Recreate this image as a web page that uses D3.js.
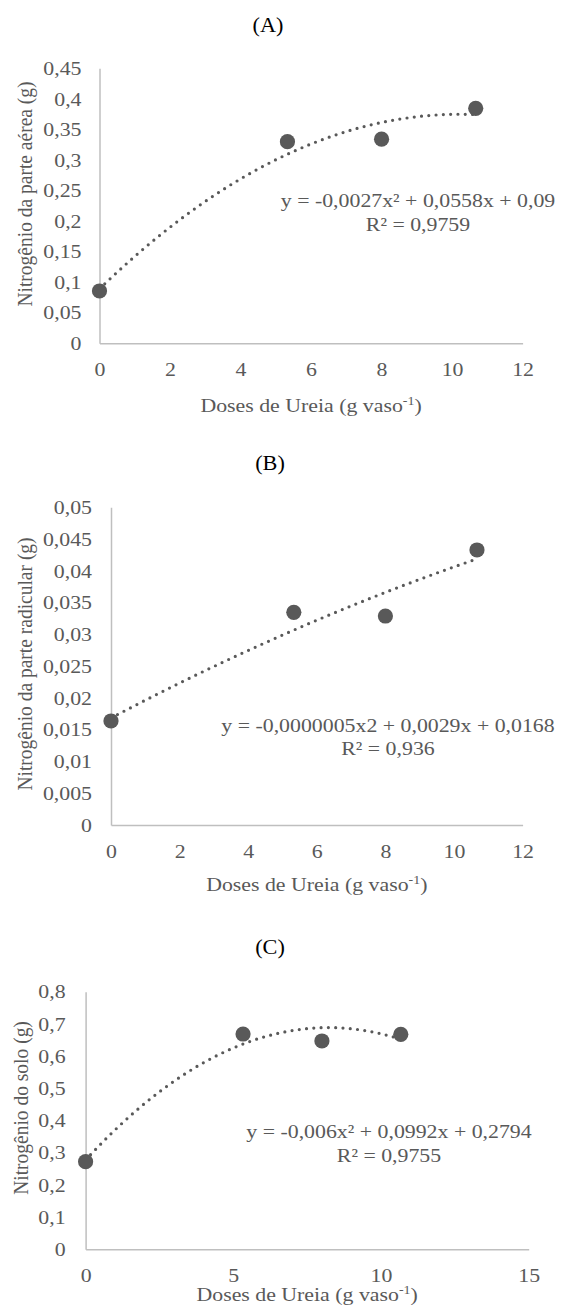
<!DOCTYPE html>
<html>
<head>
<meta charset="utf-8">
<script src="https://cdn.jsdelivr.net/npm/d3@7"></script>
<style>
    body { margin: 0; background: #fff; }
    text { font-family: "Liberation Serif", "Times New Roman", serif; }
</style>
</head>
<body>
<svg id="drawing_region"></svg>
<script>
// doses de ureia (g vaso-1)
const doses = [0, 5.33, 8, 10.67];

// nitrogênio (g) por painel
const nAerea = [0.0856, 0.330, 0.334, 0.3845];
const nRadicular = [0.01637, 0.03347, 0.03289, 0.04328];
const nSolo = [0.272, 0.6686, 0.6469, 0.6677];

const xTicksAB = [0, 2, 4, 6, 8, 10, 12];
const xTicksC = [0, 5, 10, 15];
const yTicksA = [0, 0.05, 0.1, 0.15, 0.2, 0.25, 0.3, 0.35, 0.4, 0.45];
const yTicksB = [0, 0.005, 0.01, 0.015, 0.02, 0.025, 0.03, 0.035, 0.04, 0.045, 0.05];
const yTicksC = [0, 0.1, 0.2, 0.3, 0.4, 0.5, 0.6, 0.7, 0.8];

const titles = ["(A)", "(B)", "(C)"];
const yLabels = ["Nitrogênio da parte aérea (g)", "Nitrogênio da parte radicular (g)", "Nitrogênio do solo (g)"];
const equations = [
    "y = -0,0027x² + 0,0558x + 0,09",
    "y = -0,0000005x2 + 0,0029x + 0,0168",
    "y = -0,006x² + 0,0992x + 0,2794"
];
const r2Labels = ["R² = 0,9759", "R² = 0,936", "R² = 0,9755"];

const locale = d3.formatLocale({decimal: ",", thousands: ".", grouping: [3], currency: ["", ""]});
const fmt = locale.format("~g");

const textColor = "#595959";
const axisColor = "#bfbfbf";
const fontSize = 19.5;
const stretch = 1.12;   // the original lettering is a bit wide

const svg = d3.select("#drawing_region")
    .attr("width", 564)
    .attr("height", 1307);

// widen text around its own anchor point
function widen(sel, s) {
    sel.each(function() {
        const t = d3.select(this);
        const x = +t.attr("x") || 0, y = +t.attr("y") || 0;
        t.attr("x", 0).attr("y", 0)
            .attr("transform", `translate(${x}, ${y}) scale(${s}, 1)`);
    });
}

// least squares, 2nd order (same as the spreadsheet trendline)
function polyFit2(xs, ys) {
    let s = [0, 0, 0, 0, 0], t = [0, 0, 0];
    xs.forEach((x, i) => {
        for (let k = 0; k < 5; k++) s[k] += Math.pow(x, k);
        for (let k = 0; k < 3; k++) t[k] += ys[i] * Math.pow(x, k);
    });
    let m = [
        [s[0], s[1], s[2], t[0]],
        [s[1], s[2], s[3], t[1]],
        [s[2], s[3], s[4], t[2]]
    ];
    for (let i = 0; i < 3; i++) {
        for (let j = i + 1; j < 3; j++) {
            let f = m[j][i] / m[i][i];
            for (let k = i; k < 4; k++) m[j][k] -= f * m[i][k];
        }
    }
    let c = [0, 0, 0];
    for (let i = 2; i >= 0; i--) {
        let v = m[i][3];
        for (let k = i + 1; k < 3; k++) v -= m[i][k] * c[k];
        c[i] = v / m[i][i];
    }
    return x => c[0] + c[1] * x + c[2] * x * x;
}

const panels = [
    { values: nAerea, xTicks: xTicksAB, yTicks: yTicksA, xMax: 12, yMax: 0.45,
      left: 99.5, right: 522.6, top: 68.3, bottom: 343.3, xPad: 19, yPad: 18,
      titleX: 268, titleY: 32, yLabelX: 25, yLabelY: 194, xLabelY: 412,
      eqX: 418, eqY: 206.5, r2Y: 230.5 },
    { values: nRadicular, xTicks: xTicksAB, yTicks: yTicksB, xMax: 12, yMax: 0.05,
      left: 111, right: 522.6, top: 507.3, bottom: 825, xPad: 19, yPad: 19,
      titleX: 270, titleY: 470, yLabelX: 25, yLabelY: 664, xLabelY: 891,
      eqX: 388, eqY: 731.5, r2Y: 755 },
    { values: nSolo, xTicks: xTicksC, yTicks: yTicksC, xMax: 15, yMax: 0.8,
      left: 85.6, right: 528.7, top: 991.7, bottom: 1249.3, xPad: 18.5, yPad: 20,
      titleX: 270, titleY: 953.5, yLabelX: 21, yLabelY: 1108, xLabelY: 1301,
      eqX: 389, eqY: 1138, r2Y: 1161.5 }
];

panels.forEach((p, idx) => {
    const xscale = d3.scaleLinear().domain([0, p.xMax]).range([p.left, p.right]);
    const yscale = d3.scaleLinear().domain([0, p.yMax]).range([p.bottom, p.top]);

    const g = svg.append("g");

    // axes
    const xaxis = d3.axisBottom(xscale).tickValues(p.xTicks).tickSize(0).tickPadding(p.xPad).tickFormat(fmt);
    const yaxis = d3.axisLeft(yscale).tickValues(p.yTicks).tickSize(0).tickPadding(p.yPad).tickFormat(fmt);

    const xg = g.append("g")
        .attr("transform", `translate(0, ${p.bottom})`)
        .call(xaxis);
    const yg = g.append("g")
        .attr("transform", `translate(${p.left}, 0)`)
        .call(yaxis);

    [xg, yg].forEach(a => {
        a.select(".domain").attr("stroke", axisColor).attr("stroke-width", 1.5);
        a.selectAll("text")
            .attr("fill", textColor)
            .attr("font-size", fontSize)
            .call(widen, stretch);
    });

    // trendline
    const fit = polyFit2(doses, p.values);
    const xs = d3.range(0, 61).map(i => doses[doses.length - 1] * i / 60);
    g.append("path")
        .datum(xs)
        .attr("fill", "none")
        .attr("stroke", textColor)
        .attr("stroke-width", 3.2)
        .attr("stroke-linecap", "round")
        .attr("stroke-dasharray", "0 7.3")
        .attr("d", d3.line().x(d => xscale(d)).y(d => yscale(fit(d))));

    // points
    g.selectAll("circle")
        .data(doses)
        .enter()
        .append("circle")
        .attr("cx", d => xscale(d))
        .attr("cy", (d, i) => yscale(p.values[i]))
        .attr("r", 7.6)
        .attr("fill", textColor);

    // title
    svg.append("text")
        .attr("x", p.titleX)
        .attr("y", p.titleY)
        .attr("text-anchor", "middle")
        .attr("font-size", 21)
        .attr("fill", "#000")
        .text(titles[idx])
        .call(widen, 1.06);

    // y label
    svg.append("text")
        .attr("transform", `translate(${p.yLabelX}, ${p.yLabelY}) rotate(-90) scale(1, ${stretch})`)
        .attr("dy", "0.32em")
        .attr("text-anchor", "middle")
        .attr("font-size", fontSize)
        .attr("fill", textColor)
        .text(yLabels[idx]);

    // x label with superscript
    const xl = svg.append("text")
        .attr("x", (p.left + p.right) / 2)
        .attr("y", p.xLabelY)
        .attr("text-anchor", "middle")
        .attr("font-size", fontSize)
        .attr("fill", textColor);
    xl.append("tspan").text("Doses de Ureia (g vaso");
    xl.append("tspan").attr("font-size", 12.5).attr("dy", -7.5).text("-1");
    xl.append("tspan").attr("dy", 7.5).text(")");
    xl.call(widen, stretch);

    // equation
    svg.append("text")
        .attr("x", p.eqX)
        .attr("y", p.eqY)
        .attr("text-anchor", "middle")
        .attr("font-size", fontSize)
        .attr("fill", textColor)
        .text(equations[idx])
        .call(widen, stretch);
    svg.append("text")
        .attr("x", p.eqX)
        .attr("y", p.r2Y)
        .attr("text-anchor", "middle")
        .attr("font-size", fontSize)
        .attr("fill", textColor)
        .text(r2Labels[idx])
        .call(widen, stretch);
});
</script>
</body>
</html>
